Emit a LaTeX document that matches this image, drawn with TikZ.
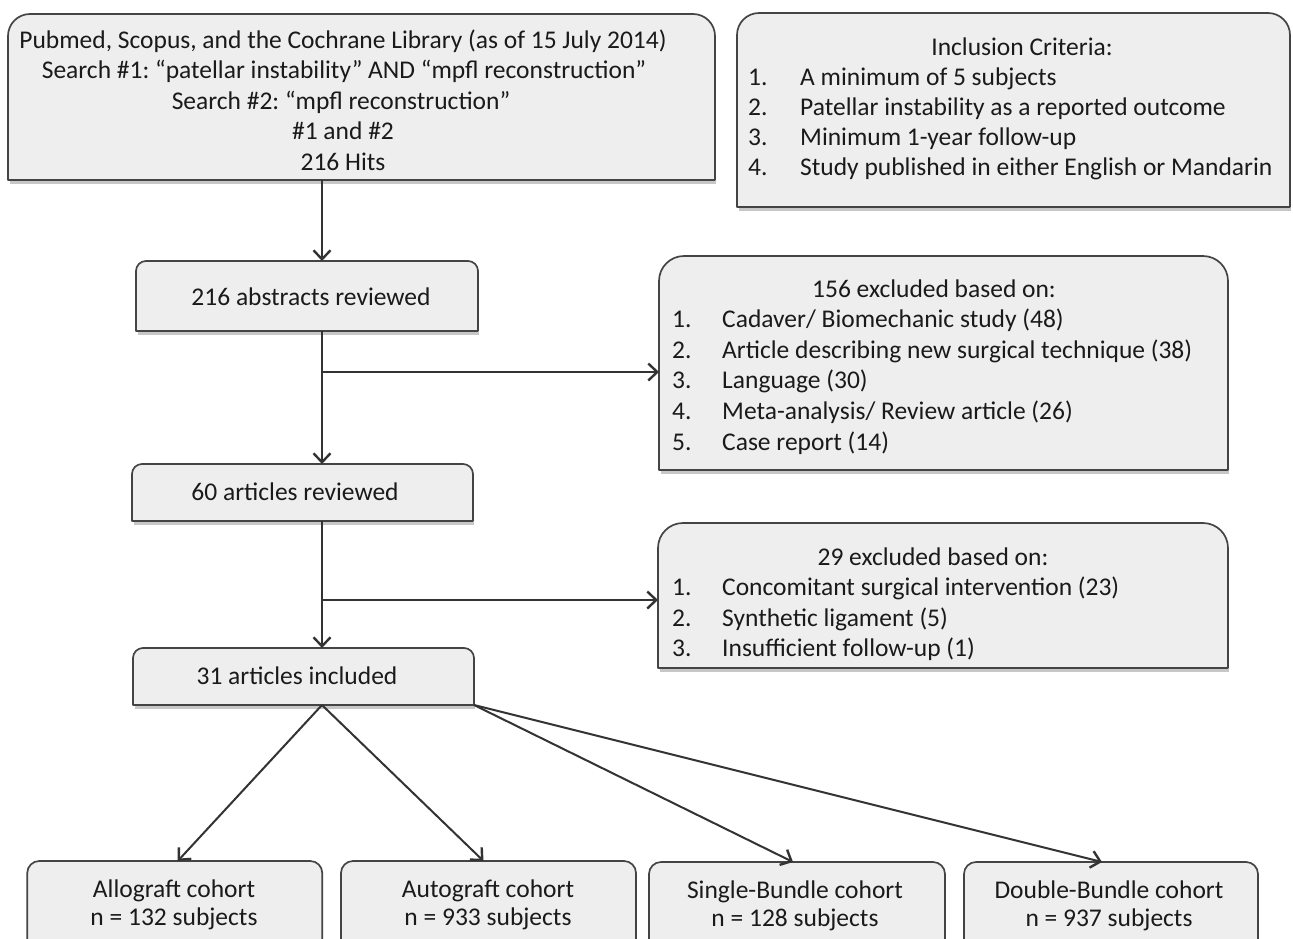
\documentclass[tikz,border=0pt]{standalone}
\usepackage{fontspec}
\setmainfont{Carlito}
\usetikzlibrary{arrows.meta}
\definecolor{boxfill}{HTML}{EEEEEE}
\definecolor{boxline}{HTML}{444444}
\definecolor{arrc}{HTML}{333333}
\definecolor{txtc}{HTML}{1A1A1A}
\tikzset{
  boxnode/.style={rectangle, draw=none, inner sep=0pt, outer sep=0pt},
  boxdraw/.style={draw=boxline, line width=1.7pt, fill=boxfill, line join=round},
  shadowline/.style={draw=black!22, line width=3pt},
  txt/.style={inner sep=0pt, text=txtc, font=\fontsize{25.5pt}{30.6pt}\selectfont, anchor=base},
  txtl/.style={txt, anchor=base west},
  conn/.style={draw=arrc, line width=2pt, -{Straight Barb[length=9pt,width=17pt,line width=2.4pt]}}
}
% name, cx, cy, w, h, corner radius
\newcommand\mybox[6]{%
  \node[boxnode, minimum width=#4pt, minimum height=#5pt] (#1) at (#2,#3) {};
  \draw[shadowline] ([shift={(2pt,-2.5pt)}]#1.south west) -- ([shift={(1pt,-2.5pt)}]#1.south east);
  \draw[boxdraw] (#1.south west) [rounded corners=#6pt] -- (#1.north west) -- (#1.north east) -- (#1.east) [sharp corners] -- (#1.south east) -- cycle;
}
% name, numx, textx, y, number, text
\newcommand\lline[6]{%
  \node[txtl] (#1n) at (#2,#4) {#5.};
  \node[txtl] (#1t) at (#3,#4) {#6};
}
\begin{document}
\begin{tikzpicture}[x=1pt,y=-1pt]
\path[use as bounding box] (0,0) rectangle (1293,938);
\clip (0,0) rectangle (1293,938);
\fill[white] (0,0) rectangle (1293,938);

% boxes
\mybox{top}{361.5}{97}{707}{166}{22}
\mybox{incl}{1013.5}{110}{553}{194}{22}
\mybox{abs}{307}{296}{342}{70}{10}
\mybox{exc1}{943.5}{363}{569}{214}{25}
\mybox{art}{302.5}{492.5}{341}{57}{10}
\mybox{exc2}{943}{595.5}{570}{145}{25}
\mybox{inc}{303.5}{676.5}{341}{57}{10}
\mybox{allo}{174.75}{911}{295}{100}{12}
\mybox{auto}{488.5}{911}{295}{100}{12}
\mybox{single}{797}{912}{296}{100}{12}
\mybox{double}{1111}{912}{294}{100}{12}

% top box text
\node[txt] (t1) at (343,48) {Pubmed, Scopus, and the Cochrane Library (as of 15 July 2014)};
\node[txt] (t2) at (344,78.6) {Search \#1:~“patellar instability” AND “mpfl reconstruction”};
\node[txt] (t3) at (341,109.2) {Search \#2:~“mpfl reconstruction”};
\node[txt] (t4) at (343,139.8) {\#1 and \#2};
\node[txt] (t5) at (343,170.4) {216 Hits};

% inclusion criteria
\node[txt] (ic) at (1022,55) {Inclusion Criteria:};
\lline{ia}{748}{800}{85.2}{1}{A minimum of 5 subjects}
\lline{ib}{748}{800}{115.4}{2}{Patellar instability as a reported outcome}
\lline{icc}{748}{800}{145.6}{3}{Minimum 1-year follow-up}
\lline{id}{748}{800}{175.8}{4}{Study published in either English or Mandarin}

% single-line boxes
\node[txt] (absT) at (311,305) {216 abstracts reviewed};
\node[txt] (artT) at (295,500) {60 articles reviewed};
\node[txt] (incT) at (297,684) {31 articles included};

% exclusion 1
\node[txt] (e1h) at (934,297) {156 excluded based on:};
\lline{ea}{672}{722}{327.6}{1}{Cadaver/ Biomechanic study (48)}
\lline{eb}{672}{722}{358.2}{2}{Article describing new surgical technique (38)}
\lline{ec}{672}{722}{388.8}{3}{Language (30)}
\lline{ed}{672}{722}{419.4}{4}{Meta-analysis/ Review article (26)}
\lline{ee}{672}{722}{450}{5}{Case report (14)}

% exclusion 2
\node[txt] (e2h) at (933,565) {29 excluded based on:};
\lline{fa}{672}{722}{595.5}{1}{Concomitant surgical intervention (23)}
\lline{fb}{672}{722}{626}{2}{Synthetic ligament (5)}
\lline{fc}{672}{722}{656.5}{3}{Insufficient follow-up (1)}

% cohorts
\node[txt] (c1a) at (174,897) {Allograft cohort};
\node[txt] (c1b) at (174,925.5) {n = 132 subjects};
\node[txt] (c2a) at (488,897) {Autograft cohort};
\node[txt] (c2b) at (488,925.5) {n = 933 subjects};
\node[txt] (c3a) at (795,898) {Single-Bundle cohort};
\node[txt] (c3b) at (795,926.5) {n = 128 subjects};
\node[txt] (c4a) at (1109,898) {Double-Bundle cohort};
\node[txt] (c4b) at (1109,926.5) {n = 937 subjects};

% connectors
\coordinate (vx) at (322,0);
\coordinate (b1) at (322,372);
\coordinate (b2) at (322,600);
\draw[conn] (vx |- top.south) -- (vx |- abs.north);
\draw[conn] (vx |- abs.south) -- (vx |- art.north);
\draw[conn] (b1) -- (b1 -| exc1.west);
\draw[conn] (vx |- art.south) -- (vx |- inc.north);
\draw[conn] (b2) -- (b2 -| exc2.west);
\draw[conn] (vx |- inc.south) -- ([xshift=3pt]allo.north);
\draw[conn] (vx |- inc.south) -- ([xshift=-5pt]auto.north);
\draw[conn] (inc.south east) -- ([xshift=-4pt]single.north);
\draw[conn] (inc.south east) -- ([xshift=-9pt]double.north);
\end{tikzpicture}
\end{document}
